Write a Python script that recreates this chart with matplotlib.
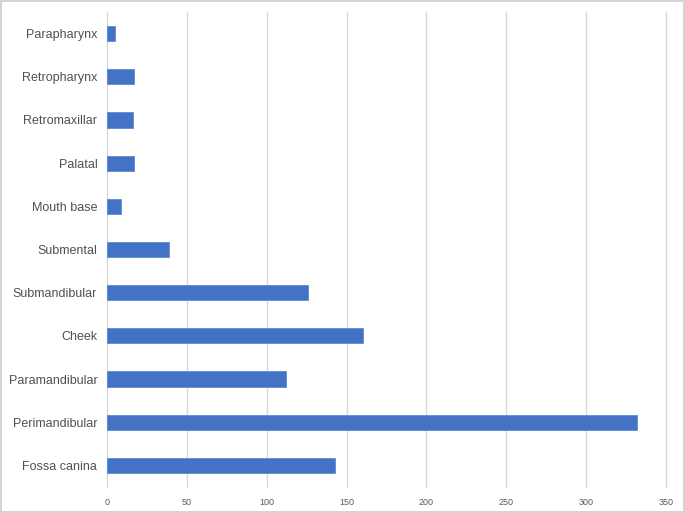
import matplotlib
matplotlib.use("Agg")
import matplotlib.pyplot as plt
from matplotlib.patches import Rectangle

plt.rcParams["font.family"] = ["Liberation Sans", "DejaVu Sans"]

regions = ["Parapharynx", "Retropharynx", "Retromaxillar", "Palatal", "Mouth base",
           "Submental", "Submandibular", "Cheek", "Paramandibular", "Perimandibular",
           "Fossa canina"]
counts = [5, 17, 16, 17, 9, 39, 126, 160, 112, 332, 143]
xticks = [0, 50, 100, 150, 200, 250, 300, 350]

fig = plt.figure(figsize=(6.85, 5.13), dpi=100)
ax = fig.add_axes([107 / 685, 26 / 513, 559 / 685, 475 / 513])

ypos = list(range(len(regions)))[::-1]
ax.barh(ypos, counts, height=0.35, color="#4472C4", edgecolor="#5B8BD6", linewidth=0.6, zorder=3)
ax.set_xlim(0, 350)
ax.set_ylim(-0.5, len(regions) - 0.5)
ax.set_xticks(xticks)
ax.set_xticklabels([str(v) for v in xticks], fontsize=6.5, color="#595959")
ax.set_yticks(ypos)
ax.set_yticklabels(regions, fontsize=9, color="#505050")
ax.tick_params(axis="y", length=0, pad=7)
ax.tick_params(axis="x", length=0, pad=8)
ax.grid(axis="x", color="#d9d9d9", lw=1.0, zorder=0)
for gl in ax.get_xgridlines():
    gl.set_clip_on(False)
for s in ax.spines.values():
    s.set_visible(False)

fig.patches.append(Rectangle((0.002, 0.002), 0.996, 0.996, transform=fig.transFigure,
                             fill=False, edgecolor="#cccccc", lw=1.2))
fig.savefig("out.png", dpi=100)
